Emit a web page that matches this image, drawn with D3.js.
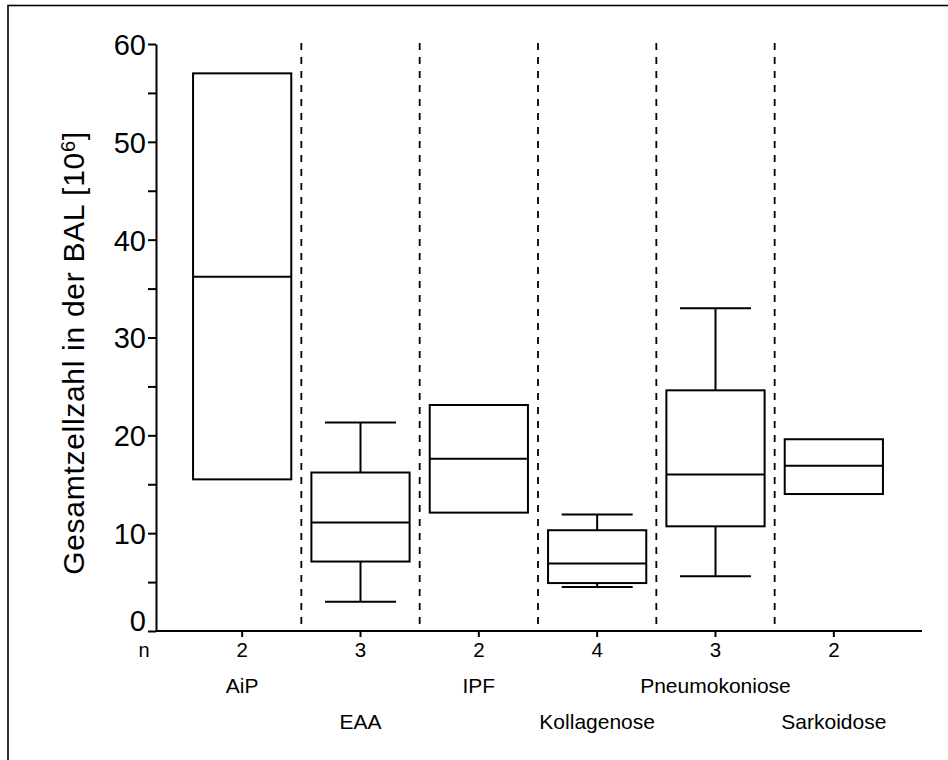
<!DOCTYPE html>
<html>
<head>
<meta charset="utf-8">
<script src="https://cdn.jsdelivr.net/npm/d3@7"></script>
<style>
  body { margin: 0; background: #fff; }
  text { font-family: "Liberation Sans", Arial, sans-serif; fill: #000; }
</style>
</head>
<body>
<div class="canvas"></div>
<script>
// data
const categories = ['AiP', 'EAA', 'IPF', 'Kollagenose', 'Pneumokoniose', 'Sarkoidose'];
const counts = [2, 3, 2, 4, 3, 2];
const whiskerLow = [null, 3.0, null, 4.5, 5.6, null];
const q1 = [15.5, 7.1, 12.1, 4.9, 10.7, 14.0];
const medians = [36.2, 11.1, 17.6, 6.9, 16.0, 16.9];
const q3 = [57.0, 16.2, 23.1, 10.3, 24.6, 19.6];
const whiskerHigh = [null, 21.3, null, 11.9, 33.0, null];
const labelRow = [0, 1, 0, 1, 0, 1];
const yTicks = [0, 10, 20, 30, 40, 50, 60];
const yMinorTicks = [5, 15, 25, 35, 45, 55];

const data = categories.map((c, i) => ({
    name: c, n: counts[i], lo: whiskerLow[i], q1: q1[i], med: medians[i],
    q3: q3[i], hi: whiskerHigh[i], row: labelRow[i]
}));

const width = 948, height = 760;

const svg = d3.select('.canvas')
    .append('svg')
        .attr('width', width)
        .attr('height', height);

// outer frame (runs off right and bottom edge)
svg.append('rect')
    .attr('x', 8).attr('y', 5.5)
    .attr('width', 960).attr('height', 780)
    .attr('fill', 'none')
    .attr('stroke', '#000')
    .attr('stroke-width', 1.6);

const y = d3.scaleLinear()
    .domain([0, 60])
    .range([631, 44]);

const x = d3.scaleBand()
    .domain(categories)
    .range([183, 893])
    .padding(0);

const step = x.step();
const boxW = step * 0.83;
const capW = step * 0.6;
const cx = d => x(d.name) + x.bandwidth() / 2;

// dashed separators
svg.append('g').selectAll('line')
    .data(categories.slice(1))
    .enter().append('line')
        .attr('x1', d => x(d)).attr('x2', d => x(d))
        .attr('y1', y(60) - 1).attr('y2', y(0))
        .attr('stroke', '#000')
        .attr('stroke-width', 1.8)
        .attr('stroke-dasharray', '7,7');

// axes
const yAxis = d3.axisLeft(y)
    .tickValues(yTicks.concat(yMinorTicks))
    .tickFormat(d => yTicks.includes(d) ? d : '')
    .tickSize(8)
    .tickSizeOuter(0)
    .tickPadding(2);

const yAxisGroup = svg.append('g')
    .attr('transform', 'translate(156,0)')
    .call(yAxis);
yAxisGroup.selectAll('text')
    .style('font-size', '29px')
    .attr('dy', d => d === 0 ? '-0.02em' : '0.36em');

const xAxis = d3.axisBottom(x)
    .tickSize(6)
    .tickSizeOuter(0)
    .tickFormat('');

const xAxisGroup = svg.append('g')
    .attr('transform', `translate(0,${y(0)})`)
    .call(xAxis);
xAxisGroup.select('.domain')
    .attr('d', 'M156,0H922');

svg.selectAll('.domain, .tick line')
    .attr('stroke', '#000')
    .attr('stroke-width', 2);

// n labels
svg.append('text')
    .attr('x', 144).attr('y', 657)
    .attr('text-anchor', 'middle')
    .style('font-size', '20px')
    .text('n');

svg.append('g').selectAll('text')
    .data(data)
    .enter().append('text')
        .attr('x', cx)
        .attr('y', 657)
        .attr('text-anchor', 'middle')
        .style('font-size', '20.5px')
        .text(d => d.n);

// category names on two staggered rows
svg.append('g').selectAll('text')
    .data(data)
    .enter().append('text')
        .attr('x', cx)
        .attr('y', d => d.row === 0 ? 693 : 729)
        .attr('text-anchor', 'middle')
        .style('font-size', '21px')
        .text(d => d.name);

// boxes
const boxes = svg.append('g').selectAll('g')
    .data(data)
    .enter().append('g');

const wData = d => d.hi == null ? [] : [d];

boxes.selectAll('.whisker')
    .data(wData)
    .enter().append('path')
        .attr('class', 'whisker')
        .attr('fill', 'none')
        .attr('stroke', '#000')
        .attr('stroke-width', 2)
        .attr('d', d => {
            const c = cx(d);
            return `M${c - capW / 2},${y(d.hi)}H${c + capW / 2}M${c},${y(d.hi)}V${y(d.q3)}` +
                   `M${c},${y(d.q1)}V${y(d.lo)}M${c - capW / 2},${y(d.lo)}H${c + capW / 2}`;
        });

boxes.append('rect')
    .attr('x', d => cx(d) - boxW / 2)
    .attr('y', d => y(d.q3))
    .attr('width', boxW)
    .attr('height', d => y(d.q1) - y(d.q3))
    .attr('fill', '#fff')
    .attr('stroke', '#000')
    .attr('stroke-width', 2);

boxes.append('line')
    .attr('x1', d => cx(d) - boxW / 2)
    .attr('x2', d => cx(d) + boxW / 2)
    .attr('y1', d => y(d.med))
    .attr('y2', d => y(d.med))
    .attr('stroke', '#000')
    .attr('stroke-width', 2);

// y title
const title = svg.append('text')
    .attr('transform', 'translate(84,353) rotate(-90)')
    .attr('text-anchor', 'middle')
    .style('font-size', '30px')
    .style('letter-spacing', '0.7px');
title.append('tspan').text('Gesamtzellzahl in der BAL [10');
title.append('tspan').attr('dy', '-0.45em').style('font-size', '20px').text('6');
title.append('tspan').attr('dy', '0.3em').text(']');
</script>
</body>
</html>
